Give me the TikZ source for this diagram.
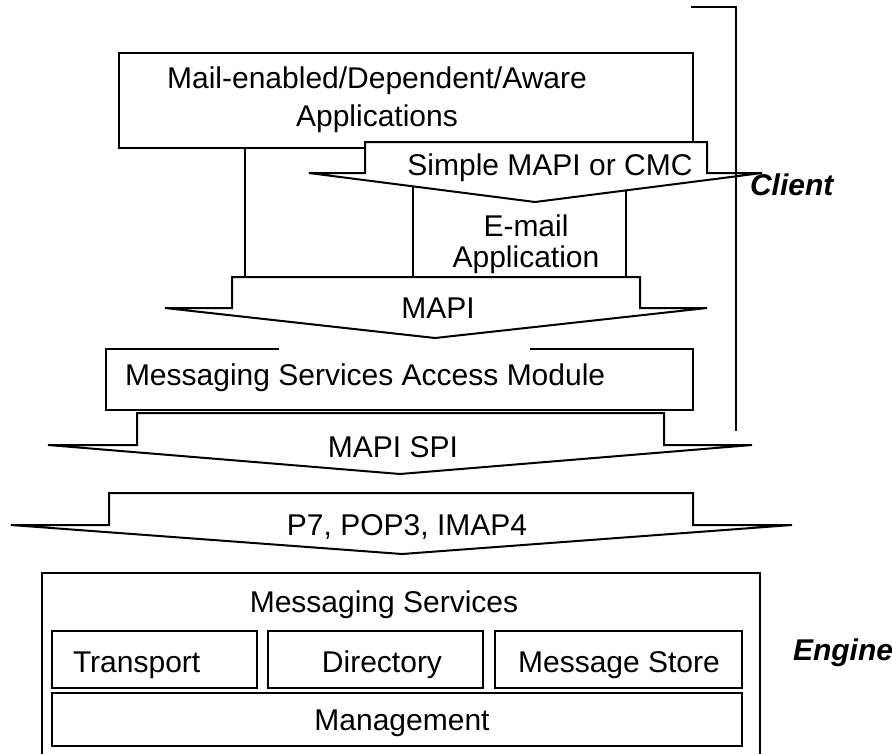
\documentclass[tikz,border=0pt]{standalone}
\usepackage{fontspec}
\setmainfont{Liberation Sans}
\begin{document}
\begin{tikzpicture}[x=1pt,y=-1pt,
  every node/.style={font=\fontsize{30}{36}\selectfont, inner sep=0pt, outer sep=0pt},
  frame/.style={draw, line width=2pt, fill=white, rectangle},
  flow/.style={draw, line width=2pt, fill=white, line join=miter},
  rule/.style={line width=2pt},
  tag/.style={font=\fontsize{30}{36}\selectfont\bfseries\itshape}]
\useasboundingbox (0,0) rectangle (892,753);
\clip (0,0) rectangle (892,753);

% top application box and its side rail
\node[frame, minimum width=574pt, minimum height=95pt] (mail) at (406,100.5) {};
\node[align=center, font=\fontsize{30}{38}\selectfont] (mailtxt) at (377,100)
  {Mail-enabled/Dependent/Aware\\Applications};
\coordinate (mapiTop) at (0,277);
\path (mail.south west) ++(126,0) coordinate (rail);
\draw[rule] (rail) -- (rail |- mapiTop);

% e-mail application box (its top is hidden under the interface arrow)
\node[frame, minimum width=213pt, minimum height=97pt] (email) at (519.5,228.5) {};
\node[align=center, font=\fontsize{30}{31}\selectfont] (emailtxt) at (526,244)
  {E-mail\\Application};

% Simple MAPI / CMC interface arrow
\draw[flow] (365,142) -- (707,142) -- (707,173) -- (762,173) -- (535,202)
  -- (309,173) -- (365,173) -- cycle;
\node[anchor=base] (cmc) at (550,175) {Simple MAPI or CMC};

% MAPI interface arrow
\draw[flow] (232,277) -- (640,277) -- (640,308) -- (707,308) -- (435,338)
  -- (165,308) -- (232,308) -- cycle;
\node[anchor=base] (mapi) at (438,318) {MAPI};

% access module box (top edge is broken)
\node[minimum width=587pt, minimum height=61pt] (msam) at (399.5,379.5) {};
\draw[rule, fill=white] (279,349) -- (msam.north west) -- (msam.south west)
  -- (msam.south east) -- (msam.north east) -- (530,349);
\node[anchor=base west] (msamtxt) at (125,385) {Messaging Services Access Module};

% MAPI SPI arrow
\draw[flow] (137,413) -- (664,413) -- (664,445) -- (752,445) -- (400,474)
  -- (48,445) -- (137,445) -- cycle;
\node[anchor=base] (spi) at (393,457) {MAPI SPI};

% protocol arrow
\draw[flow] (109,493) -- (693,493) -- (693,525) -- (792,525) -- (402,554)
  -- (11,525) -- (109,525) -- cycle;
\node[anchor=base] (proto) at (407,535) {P7, POP3, IMAP4};

% messaging services engine
\node[frame, minimum width=718pt, minimum height=197pt] (engine) at (401,671.5) {};
\node[anchor=base] (enginetxt) at (384,612) {Messaging Services};
\node[frame, minimum width=205pt, minimum height=57pt] (transport) at (154.5,659.5) {};
\node[anchor=base west] at (73,672) {Transport};
\node[frame, minimum width=215pt, minimum height=57pt] (directory) at (375.5,659.5) {};
\node[anchor=base] at (382,672) {Directory};
\node[frame, minimum width=247pt, minimum height=57pt] (store) at (618.5,659.5) {};
\node[anchor=base] at (619,672) {Message Store};
\node[frame, minimum width=690pt, minimum height=53pt] (mgmt) at (397,719.5) {};
\node[anchor=base] at (402,730) {Management};

% client bracket and side labels
\coordinate (brTop) at (691,7);
\coordinate (brBot) at (736,431);
\draw[rule] (brTop) -| (brBot);
\node[tag, anchor=base west] (client) at (750,195) {Client};
\node[tag, anchor=base west] (enginetag) at (793,660) {Engine};
\end{tikzpicture}
\end{document}
